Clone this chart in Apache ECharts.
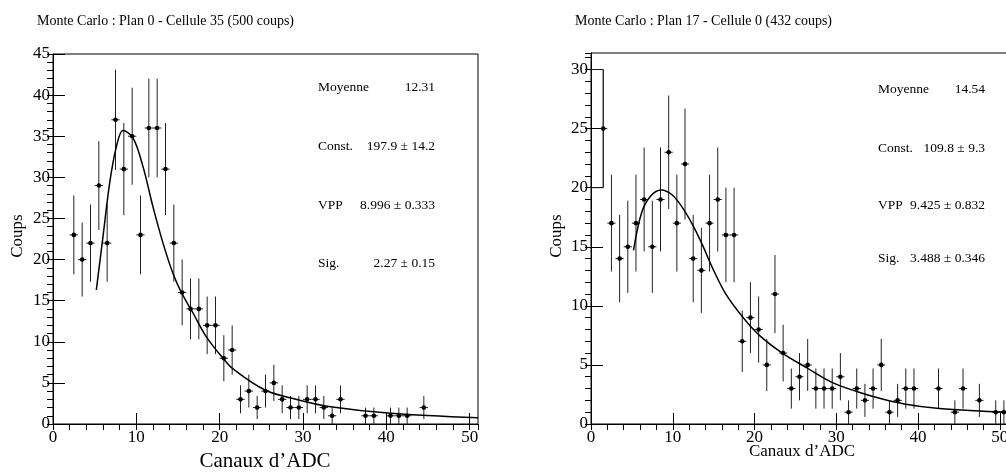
<!DOCTYPE html>
<html>
<head>
<meta charset="utf-8">
<script src="https://cdn.jsdelivr.net/npm/echarts@6/dist/echarts.min.js"></script>
<style>
  html, body { margin: 0; padding: 0; background: #fff; }
  #chart { width: 1006px; height: 473px; }
</style>
</head>
<body>
<div id="chart"></div>
<script>
// Plan 0 - Cellule 35
const leftBins = [2.5, 3.5, 4.5, 5.5, 6.5, 7.5, 8.5, 9.5, 10.5, 11.5, 12.5, 13.5, 14.5, 15.5, 16.5, 17.5, 18.5, 19.5, 20.5, 21.5, 22.5, 23.5, 24.5, 25.5, 26.5, 27.5, 28.5, 29.5, 30.5, 31.5, 32.5, 33.5, 34.5, 37.5, 38.5, 40.5, 41.5, 42.5, 44.5]
const leftCounts = [23, 20, 22, 29, 22, 37, 31, 35, 23, 36, 36, 31, 22, 16, 14, 14, 12, 12, 8, 9, 3, 4, 2, 4, 5, 3, 2, 2, 3, 3, 2, 1, 3, 1, 1, 1, 1, 1, 2]
const leftErrors = [4.8, 4.5, 4.7, 5.4, 4.7, 6.1, 5.6, 5.9, 4.8, 6.0, 6.0, 5.6, 4.7, 4.0, 3.7, 3.7, 3.5, 3.5, 2.8, 3.0, 1.7, 2.0, 1.4, 2.0, 2.2, 1.7, 1.4, 1.4, 1.7, 1.7, 1.4, 1.0, 1.7, 1.0, 1.0, 1.0, 1.0, 1.0, 1.4]
const leftFitX = [5.2, 6.0, 6.8, 7.6, 8.4, 9.6, 10.8, 12.0, 13.2, 14.4, 15.4, 16.8, 18.4, 20.4, 21.6, 25.5, 29.6, 33.3, 40.5, 51]
const leftFitY = [16.3, 22.8, 29.3, 33.7, 35.7, 34.8, 31.3, 26.4, 22.0, 18.3, 16.0, 13.5, 10.6, 8.0, 6.7, 4.1, 2.9, 2.1, 1.3, 0.75]
const leftStatNames = ['Moyenne', 'Const.', 'VPP', 'Sig.']
const leftStatValues = ['12.31', '197.9 ± 14.2', '8.996 ± 0.333', '2.27 ± 0.15']

// Plan 17 - Cellule 0
const rightBins = [1.5, 2.5, 3.5, 4.5, 5.5, 6.5, 7.5, 8.5, 9.5, 10.5, 11.5, 12.5, 13.5, 14.5, 15.5, 16.5, 17.5, 18.5, 19.5, 20.5, 21.5, 22.5, 23.5, 24.5, 25.5, 26.5, 27.5, 28.5, 29.5, 30.5, 31.5, 32.5, 33.5, 34.5, 35.5, 36.5, 37.5, 38.5, 39.5, 42.5, 44.5, 45.5, 47.5, 49.5, 50.5]
const rightCounts = [25, 17, 14, 15, 17, 19, 15, 19, 23, 17, 22, 14, 13, 17, 19, 16, 16, 7, 9, 8, 5, 11, 6, 3, 4, 5, 3, 3, 3, 4, 1, 3, 2, 3, 5, 1, 2, 3, 3, 3, 1, 3, 2, 1, 1]
const rightErrors = [5.0, 4.1, 3.7, 3.9, 4.1, 4.4, 3.9, 4.4, 4.8, 4.1, 4.7, 3.7, 3.6, 4.1, 4.4, 4.0, 4.0, 2.6, 3.0, 2.8, 2.2, 3.3, 2.4, 1.7, 2.0, 2.2, 1.7, 1.7, 1.7, 2.0, 1.0, 1.7, 1.4, 1.7, 2.2, 1.0, 1.4, 1.7, 1.7, 1.7, 1.0, 1.7, 1.4, 1.0, 1.0]
const rightFitX = [5.2, 6.2, 7.3, 8.6, 9.9, 11.1, 12.4, 13.6, 14.8, 16.4, 18.5, 20.6, 23.4, 26.4, 29.4, 32.5, 35.4, 38.3, 42.3, 46.8, 51]
const rightFitY = [14.7, 17.9, 19.3, 19.8, 19.4, 18.4, 16.9, 15.2, 13.3, 11.1, 9.1, 7.5, 6.0, 4.75, 3.55, 2.75, 2.15, 1.7, 1.33, 1.13, 1.0]
const rightStatNames = ['Moyenne', 'Const.', 'VPP', 'Sig.']
const rightStatValues = ['14.54', '109.8 ± 9.3', '9.425 ± 0.832', '3.488 ± 0.346']

const serif = '"Liberation Serif", "DejaVu Serif", serif'
const ink = '#000'

const chart = echarts.init(document.getElementById('chart'))

// major axis carries labels, the second one only draws the small ticks
const xMajor = (grid) => ({
    type: 'value', gridIndex: grid, min: 0, max: 51, interval: 10,
    axisLine: { lineStyle: { color: ink, width: 1 } },
    axisTick: { inside: true, length: 11, lineStyle: { color: ink } },
    splitLine: { show: false },
    axisLabel: { showMaxLabel: false, color: ink, fontFamily: serif, fontSize: 17, margin: 5 }
})
const xMinor = (grid) => ({
    type: 'value', gridIndex: grid, min: 0, max: 51, interval: 2,
    axisLine: { show: false },
    axisTick: { inside: true, length: 6, lineStyle: { color: ink } },
    splitLine: { show: false },
    axisLabel: { show: false }
})
const yMajor = (grid, max) => ({
    type: 'value', gridIndex: grid, min: 0, max: max, interval: 5,
    axisLine: { lineStyle: { color: ink, width: 1 } },
    axisTick: { inside: true, length: 12, lineStyle: { color: ink } },
    splitLine: { show: false },
    axisLabel: { showMaxLabel: max % 5 === 0, color: ink, fontFamily: serif, fontSize: 17, margin: 3 }
})
const yMinor = (grid, max) => ({
    type: 'value', gridIndex: grid, min: 0, max: max, interval: 1,
    axisLine: { show: false },
    axisTick: { inside: true, length: 6, lineStyle: { color: ink } },
    splitLine: { show: false },
    axisLabel: { show: false }
})

// point + vertical error + half bin width horizontal bar
const renderPoint = (params, api) => {
    const x = api.value(0)
    const y = api.value(1)
    const e = api.value(2)
    const c = api.coord([x, y])
    const top = api.coord([x, y + e])
    const bot = api.coord([x, Math.max(y - e, 0)])
    const l = api.coord([x - 0.5, y])
    const r = api.coord([x + 0.5, y])
    const st = { stroke: '#222', lineWidth: 1 }
    return {
        type: 'group',
        children: [
            { type: 'line', shape: { x1: c[0], y1: top[1], x2: c[0], y2: bot[1] }, style: st },
            { type: 'line', shape: { x1: l[0], y1: c[1], x2: r[0], y2: c[1] }, style: st },
            { type: 'circle', shape: { cx: c[0], cy: c[1], r: 2.3 }, style: { fill: ink } }
        ]
    }
}

const points = (bins, counts, errors, xi, yi) => ({
    type: 'custom', xAxisIndex: xi, yAxisIndex: yi,
    renderItem: renderPoint,
    data: bins.map((b, i) => [b, counts[i], errors[i]]),
    clip: true, silent: true, z: 3
})

const fit = (xs, ys, xi, yi) => ({
    type: 'line', xAxisIndex: xi, yAxisIndex: yi,
    data: xs.map((x, i) => [x, ys[i]]),
    smooth: 0.35, showSymbol: false, silent: true,
    lineStyle: { color: ink, width: 1.5 }, z: 4
})

// the first bin of the right plot is drawn as a bracket against the axis
const bracket = [
    [0, rightCounts[0] + rightErrors[0]],
    [rightBins[0], rightCounts[0] + rightErrors[0]],
    [rightBins[0], rightCounts[0] - rightErrors[0]],
    [0, rightCounts[0] - rightErrors[0]]
]

const txt = (text, x, y, size, align, rot) => ({
    type: 'text', x: x, y: y, rotation: rot || 0, silent: true,
    style: { text: text, fill: ink, font: size + 'px ' + serif, textAlign: align || 'left', textVerticalAlign: 'middle' }
})

const statRowsLeft = [87, 146, 205, 263]
const statRowsRight = [89, 148, 205, 258]

const graphics = [
    txt('Monte Carlo : Plan 0 - Cellule 35 (500 coups)', 37, 21, 14),
    txt('Monte Carlo : Plan 17 - Cellule 0 (432 coups)', 575, 21, 14),
    txt('Coups', 18, 236, 17, 'center', Math.PI / 2),
    txt('Coups', 557, 236, 17, 'center', Math.PI / 2),
    txt('Canaux d’ADC', 265, 461, 21, 'center'),
    txt('Canaux d’ADC', 802, 452, 17, 'center')
]
leftStatNames.forEach((n, i) => {
    graphics.push(txt(n, 318, statRowsLeft[i], 13.5))
    graphics.push(txt(leftStatValues[i], 435, statRowsLeft[i], 13.5, 'right'))
})
rightStatNames.forEach((n, i) => {
    graphics.push(txt(n, 878, statRowsRight[i], 13.5))
    graphics.push(txt(rightStatValues[i], 985, statRowsRight[i], 13.5, 'right'))
})

const option = {
    backgroundColor: '#fff',
    animation: false,
    grid: [
        { left: 53, top: 54, width: 425, height: 370, show: true, borderColor: ink, borderWidth: 1, backgroundColor: 'transparent', outerBoundsMode: 'none' },
        { left: 591, top: 53, width: 417, height: 371, show: true, borderColor: ink, borderWidth: 1, backgroundColor: 'transparent', outerBoundsMode: 'none' }
    ],
    xAxis: [xMajor(0), xMinor(0), xMajor(1), xMinor(1)],
    yAxis: [yMajor(0, 45), yMinor(0, 45), yMajor(1, 31.4), yMinor(1, 31.4)],
    series: [
        points(leftBins, leftCounts, leftErrors, 0, 0),
        fit(leftFitX, leftFitY, 0, 0),
        points(rightBins, rightCounts, rightErrors, 2, 2),
        fit(rightFitX, rightFitY, 2, 2),
        {
            type: 'line', xAxisIndex: 2, yAxisIndex: 2, data: bracket,
            showSymbol: false, silent: true, lineStyle: { color: '#222', width: 1 }
        }
    ],
    graphic: graphics
}

chart.setOption(option)
</script>
</body>
</html>
